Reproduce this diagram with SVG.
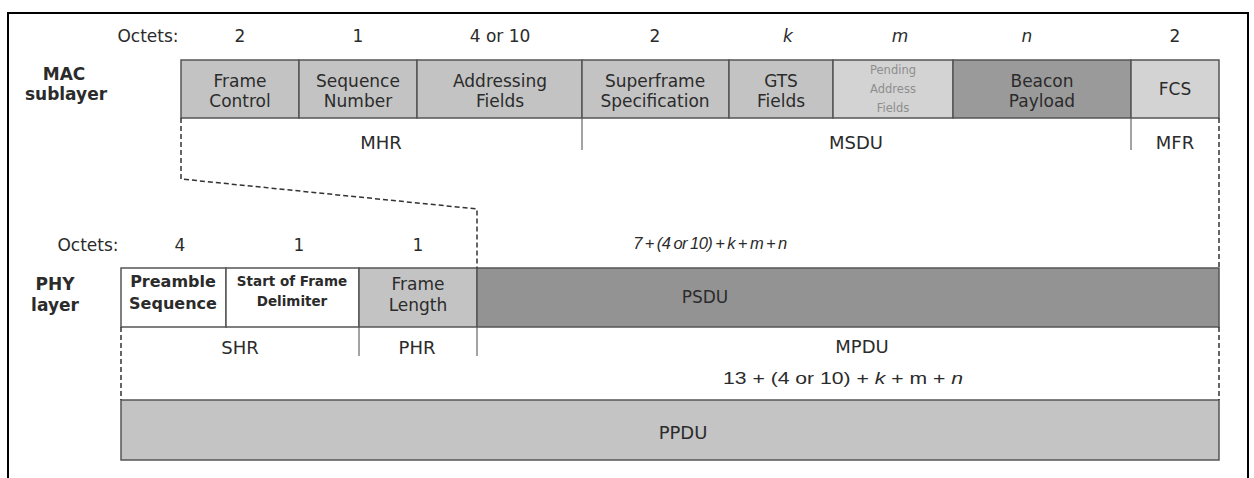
<svg xmlns="http://www.w3.org/2000/svg" width="1254" height="478" viewBox="0 0 1254 478">
<style>
text{font-family:"DejaVu Sans","Liberation Sans",sans-serif;fill:#2b2b2b;text-anchor:middle;dominant-baseline:central}
.t{font-size:17px}
.o{font-size:17px}
.l{font-size:18px}
.p{font-size:11.5px;fill:#8e8e8e}
.b{font-size:17px;font-weight:bold}
.i{font-style:italic}
.f{font-family:"Liberation Sans",Arial,sans-serif}
.cell{stroke:#555;stroke-width:1.5}
.g1{fill:#c3c3c3}
.g2{fill:#d3d3d3}
.g3{fill:#9a9a9a}
.g4{fill:#939393}
.w{fill:#fff}
.sep{stroke:#666;stroke-width:1.2}
.dash{fill:none;stroke:#333;stroke-width:1.5;stroke-dasharray:5 3}
</style>
<rect x="0" y="0" width="1254" height="478" fill="#fff"/>
<rect x="8" y="13" width="1240" height="480" fill="none" stroke="#000" stroke-width="2"/>

<g id="mac-labels">
<text class="b" x="64" y="74">MAC</text>
<text class="b" x="66" y="94">sublayer</text>
<text class="o" x="148" y="36">Octets:</text>
<text class="o" x="240" y="36">2</text>
<text class="o" x="358" y="36">1</text>
<text class="o" x="500" y="36">4 or 10</text>
<text class="o" x="655" y="36">2</text>
<text class="o i" x="788" y="36">k</text>
<text class="o i" x="900" y="36">m</text>
<text class="o i" x="1027" y="36">n</text>
<text class="o" x="1175" y="36">2</text>
</g>

<g id="frame-control"><rect class="cell g1" x="181" y="60" width="118" height="58"/><text class="t" x="240" y="81">Frame</text><text class="t" x="240" y="101">Control</text></g>
<g id="sequence-number"><rect class="cell g1" x="299" y="60" width="118" height="58"/><text class="t" x="358" y="81">Sequence</text><text class="t" x="358" y="101">Number</text></g>
<g id="addressing-fields"><rect class="cell g1" x="417" y="60" width="165" height="58"/><text class="t" x="500" y="81">Addressing</text><text class="t" x="500" y="101">Fields</text></g>
<g id="superframe-spec"><rect class="cell g1" x="582" y="60" width="147" height="58"/><text class="t" x="655" y="81">Superframe</text><text class="t" x="655" y="101">Specification</text></g>
<g id="gts-fields"><rect class="cell g1" x="729" y="60" width="104" height="58"/><text class="t" x="781" y="81">GTS</text><text class="t" x="781" y="101">Fields</text></g>
<g id="pending-address"><rect class="cell g2" x="833" y="60" width="120" height="58"/><text class="p" x="893" y="70">Pending</text><text class="p" x="893" y="89">Address</text><text class="p" x="893" y="108">Fields</text></g>
<g id="beacon-payload"><rect class="cell g3" x="953" y="60" width="178" height="58"/><text class="t" x="1042" y="81">Beacon</text><text class="t" x="1042" y="101">Payload</text></g>
<g id="fcs"><rect class="cell g2" x="1131" y="60" width="88" height="58"/><text class="t" x="1175" y="89">FCS</text></g>

<g id="mac-parts">
<line class="sep" x1="582" y1="118" x2="582" y2="150"/>
<line class="sep" x1="1131" y1="118" x2="1131" y2="150"/>
<text class="l" x="381" y="142">MHR</text>
<text class="l" x="856" y="142">MSDU</text>
<text class="l" x="1175" y="142">MFR</text>
</g>

<g id="phy-labels">
<text class="b" x="55" y="284">PHY</text>
<text class="b" x="55" y="305">layer</text>
<text class="o" x="88" y="245">Octets:</text>
<text class="o" x="180" y="245">4</text>
<text class="o" x="299" y="245">1</text>
<text class="o" x="418" y="245">1</text>
<text class="f i" x="710" y="243" font-size="16.5" word-spacing="-1.2" letter-spacing="-0.5">7 + (4 or 10)  + k + m + n</text>
</g>

<g id="preamble"><rect class="cell w" x="121" y="268" width="105" height="59"/><text x="173" y="281" font-size="16" font-weight="bold" fill="#3a3a3a">Preamble</text><text x="173" y="303" font-size="16" font-weight="bold" fill="#3a3a3a">Sequence</text></g>
<g id="sfd"><rect class="cell w" x="226" y="268" width="133" height="59"/><text x="292" y="281" font-size="13.5" font-weight="bold" fill="#3a3a3a">Start of Frame</text><text x="292" y="301" font-size="13.5" font-weight="bold" fill="#3a3a3a">Delimiter</text></g>
<g id="frame-length"><rect class="cell g1" x="359" y="268" width="118" height="59"/><text class="t" x="418" y="284">Frame</text><text class="t" x="418" y="305">Length</text></g>
<g id="psdu"><rect class="cell g4" x="477" y="268" width="742" height="59"/><text class="o" x="705" y="297">PSDU</text></g>

<g id="phy-parts">
<line class="sep" x1="359" y1="327" x2="359" y2="356"/>
<line class="sep" x1="477" y1="327" x2="477" y2="356"/>
<text class="l" x="240" y="347">SHR</text>
<text class="l" x="417" y="347">PHR</text>
<text class="l" x="862" y="346">MPDU</text>
<text class="f" x="843" y="378" font-size="17" textLength="240" lengthAdjust="spacingAndGlyphs">13 + (4 or 10) + <tspan font-style="italic">k</tspan> + m + <tspan font-style="italic">n</tspan></text>
</g>

<g id="ppdu"><rect class="cell" x="121" y="400" width="1098" height="60" fill="#c4c4c4"/><text class="l" x="683" y="432">PPDU</text></g>

<g id="connectors">
<polyline class="dash" points="181,118 181,179 477,209 477,268"/>
<line class="dash" x1="1219" y1="118" x2="1219" y2="268"/>
<line class="dash" x1="1219" y1="327" x2="1219" y2="400"/>
<line class="dash" x1="121" y1="327" x2="121" y2="400"/>
</g>
</svg>
